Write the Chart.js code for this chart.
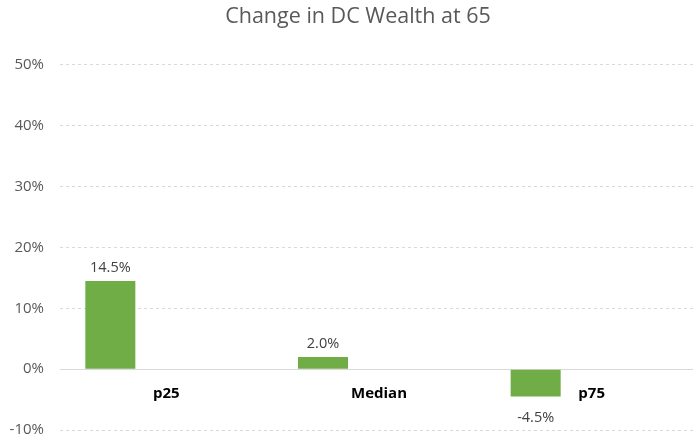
<!DOCTYPE html>
<html>
<head>
<meta charset="utf-8">
<script src="https://cdn.jsdelivr.net/npm/chart.js@4"></script>
<style>
  html, body { margin: 0; padding: 0; background: #fff; overflow: hidden; height: 436px; }
  .wrap { width: 716px; height: 455px; }
</style>
</head>
<body>
<div class="wrap"><canvas id="chart"></canvas></div>
<script>
// chart data
const categories = ["p25", "Median", "p75"];
const changeValues = [14.5, 2.0, -4.5];
const yTicks = [50, 40, 30, 20, 10, 0, -10];

// bar value labels, drawn from the bar elements
const valueLabels = {
  id: "valueLabels",
  afterLayout(chart) {
    // title sits a bit right of the plot centre in the original
    chart.titleBlock.left += 9;
    chart.titleBlock.right += 9;
  },
  afterDatasetsDraw(chart) {
    const { ctx } = chart;
    const meta = chart.getDatasetMeta(0);
    ctx.save();
    ctx.font = "14.5px 'Open Sans'";
    ctx.fillStyle = "#404040";
    ctx.textAlign = "center";
    meta.data.forEach((bar, i) => {
      const v = changeValues[i];
      const text = v.toFixed(1) + "%";
      if (v >= 0) {
        ctx.textBaseline = "bottom";
        ctx.fillText(text, bar.x, bar.y - 6);
      } else {
        ctx.textBaseline = "top";
        ctx.fillText(text, bar.x, bar.y + 14);
      }
    });
    ctx.restore();
  }
};

new Chart(document.getElementById("chart"), {
  type: "bar",
  data: {
    labels: categories,
    datasets: [
      {
        data: changeValues,
        backgroundColor: "#70AD47",
        categoryPercentage: 0.79,
        barPercentage: 0.893
      },
      { data: categories.map(() => null), categoryPercentage: 0.79, barPercentage: 0.893 },
      { data: categories.map(() => null), categoryPercentage: 0.79, barPercentage: 0.893 }
    ]
  },
  options: {
    responsive: true,
    maintainAspectRatio: false,
    animation: false,
    layout: { padding: { left: 0, right: 18, top: 0, bottom: 0 } },
    plugins: {
      legend: { display: false },
      tooltip: { enabled: false },
      title: {
        display: true,
        text: "Change in DC Wealth at 65",
        color: "#595959",
        font: { family: "'Open Sans'", size: 21.5, weight: "normal" },
        padding: { top: 4, bottom: 35 }
      }
    },
    scales: {
      x: {
        position: { y: 0 },
        grid: { display: false },
        border: { display: true, color: "#d9d9d9", width: 1 },
        ticks: {
          color: "#000",
          font: { family: "'Open Sans'", size: 15, weight: "bold" },
          padding: 8
        }
      },
      y: {
        min: -10,
        max: 50,
        afterFit(scale) { scale.width = 60; },
        afterBuildTicks(scale) {
          scale.ticks = yTicks.map(v => ({ value: v }));
        },
        border: { display: false, dash: [3, 3] },
        grid: {
          drawTicks: false,
          color: ctx => (ctx.tick && ctx.tick.value === 0 ? "rgba(0,0,0,0)" : "#d9d9d9")
        },
        ticks: {
          color: "#595959",
          font: { family: "'Open Sans'", size: 15 },
          padding: 16,
          callback: v => v + "%"
        }
      }
    }
  },
  plugins: [valueLabels]
});
</script>
</body>
</html>
